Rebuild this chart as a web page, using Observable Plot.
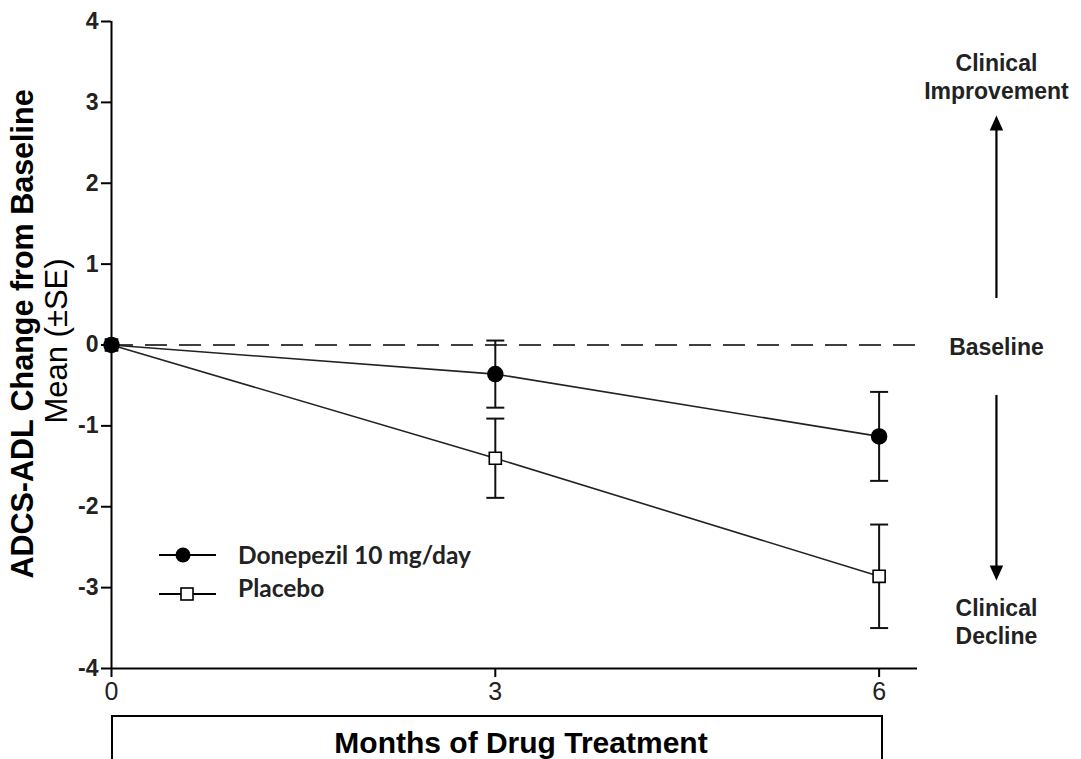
<!DOCTYPE html>
<html>
<head>
<meta charset="utf-8">
<script src="https://cdn.jsdelivr.net/npm/d3@7"></script>
<script src="https://cdn.jsdelivr.net/npm/@observablehq/plot@0.6"></script>
<style>
  html, body { margin: 0; padding: 0; background: #fff; overflow: hidden; }
  #wrap { position: relative; width: 1081px; height: 759px; overflow: hidden; }
  #xbox { position: absolute; left: 111px; top: 715px; width: 772px; height: 70px;
          border: 2px solid #000; box-sizing: border-box; text-align: center; padding-left: 48px;
          font-family: "Liberation Sans", Arial, sans-serif; font-weight: bold; font-size: 30px;
          line-height: 34px; padding-top: 9px; color: #000; }
  #legend { position: absolute; left: 150px; top: 530px; }
</style>
</head>
<body>
<div id="wrap"></div>
<script>
// ---- data ----
const months = [0, 3, 6];
const donepezilMean = [0, -0.36, -1.13];
const donepezilSE = [0, 0.415, 0.55];
const placeboMean = [0, -1.40, -2.86];
const placeboSE = [0, 0.49, 0.64];
const seriesNames = ["Donepezil 10 mg/day", "Placebo"];
const xTicks = [0, 3, 6];
const yTicks = [-4, -3, -2, -1, 0, 1, 2, 3, 4];
const yTitle = "ADCS-ADL Change from Baseline";
const ySubtitle = "Mean (\u00B1SE)";
const xTitle = "Months of Drug Treatment";
const annoTop = "Clinical\nImprovement";
const annoMid = "Baseline";
const annoBottom = "Clinical\nDecline";

// ---- tables ----
const donepezil = months.map((m, i) => ({series: seriesNames[0], month: m, mean: donepezilMean[i], se: donepezilSE[i]}));
const placebo = months.map((m, i) => ({series: seriesNames[1], month: m, mean: placeboMean[i], se: placeboSE[i]}));
const rows = donepezil.concat(placebo);
const errRows = rows.filter(d => d.se > 0);

const SANS = "'Liberation Sans', Arial, sans-serif";

const capSymbol = {draw(ctx, size) { const r = Math.sqrt(size / Math.PI); ctx.moveTo(-r, 0); ctx.lineTo(r, 0); }};
const headSymbol = {draw(ctx, size) { const r = Math.sqrt(size / Math.PI); ctx.moveTo(0, 0); ctx.lineTo(-r * 0.45, r); ctx.lineTo(r * 0.45, r); ctx.closePath(); }};

const annoX = 6.917;

const chart = Plot.plot({
  width: 1081,
  height: 759,
  marginLeft: 111,
  marginRight: 164,
  marginTop: 21,
  marginBottom: 91,
  style: {fontFamily: SANS, background: "white", color: "black", overflow: "visible"},
  x: {domain: [0, 6.3]},
  y: {domain: [-4, 4]},
  marks: [
    Plot.axisY({ticks: yTicks, tickSize: 10, tickPadding: 3, fontSize: 23, fontWeight: "bold", fontFamily: SANS,
      tickFormat: d => String(d), label: null, strokeWidth: 2, fill: "#222"}),
    Plot.axisX({ticks: xTicks, tickSize: 9, tickPadding: 5, fontSize: 25, fontFamily: SANS,
      tickFormat: d => String(d), label: null, strokeWidth: 2, fill: "#222"}),
    Plot.ruleX([0], {y1: -4, y2: 4, strokeWidth: 2}),
    Plot.ruleY([-4], {x1: 0, x2: 6.3, strokeWidth: 2}),
    Plot.ruleY([0], {x1: 0, x2: 6.3, strokeWidth: 1.6, strokeDasharray: "22,12"}),
    // error bars
    Plot.ruleX(errRows, {x: "month", y1: d => d.mean - d.se, y2: d => d.mean + d.se, strokeWidth: 2, stroke: "#111"}),
    Plot.dot(errRows, {x: "month", y: d => d.mean - d.se, symbol: capSymbol, r: 9, stroke: "#111", fill: "none", strokeWidth: 2}),
    Plot.dot(errRows, {x: "month", y: d => d.mean + d.se, symbol: capSymbol, r: 9, stroke: "#111", fill: "none", strokeWidth: 2}),
    // lines
    Plot.line(rows, {x: "month", y: "mean", z: "series", stroke: "#222", strokeWidth: 1.6}),
    // points
    Plot.dot(placebo, {x: "month", y: "mean", symbol: "square", r: 6.8, fill: "white", stroke: "#000", strokeWidth: 1.6}),
    Plot.dot(donepezil, {x: "month", y: "mean", symbol: "circle", r: 7.5, fill: "#000", stroke: "#000"}),
    // y titles
    Plot.text([yTitle], {frameAnchor: "left", textAnchor: "middle", rotate: -90, dx: -88, dy: -11, fontSize: 30.5, fontWeight: "bold", fontFamily: SANS, lineAnchor: "middle"}),
    Plot.text([ySubtitle], {frameAnchor: "left", textAnchor: "middle", rotate: -90, dx: -54, dy: -4, fontSize: 31, fontFamily: SANS, lineAnchor: "middle"}),
    // right annotations
    Plot.text([annoTop], {x: annoX, y: 3.32, fontSize: 23, fontWeight: "bold", fontFamily: SANS, lineHeight: 1.22, lineAnchor: "middle", fill: "#222"}),
    Plot.text([annoMid], {x: annoX, y: -0.03, fontSize: 23, fontWeight: "bold", fontFamily: SANS, lineAnchor: "middle", fill: "#222"}),
    Plot.text([annoBottom], {x: annoX, y: -3.41, fontSize: 23, fontWeight: "bold", fontFamily: SANS, lineHeight: 1.22, lineAnchor: "middle", fill: "#222"}),
    Plot.ruleX([annoX], {y1: 0.575, y2: 2.70, strokeWidth: 2.2}),
    Plot.dot([annoX], {x: d => d, y: 2.837, symbol: headSymbol, r: 15, fill: "#000", stroke: "none"}),
    Plot.ruleX([annoX], {y1: -0.624, y2: -2.77, strokeWidth: 2.2}),
    Plot.dot([annoX], {x: d => d, y: -2.911, symbol: headSymbol, r: 15, rotate: 180, fill: "#000", stroke: "none"})
  ]
});

const wrap = document.getElementById("wrap");
wrap.appendChild(chart);

// x axis title box
const box = document.createElement("div");
box.id = "xbox";
box.textContent = xTitle;
wrap.appendChild(box);

// legend
const legendDiv = document.createElement("div");
legendDiv.id = "legend";
wrap.appendChild(legendDiv);
const lsvg = d3.select(legendDiv).append("svg").attr("width", 360).attr("height", 80);
const legendItems = [
  {name: seriesNames[0], symbol: "circle"},
  {name: seriesNames[1], symbol: "square"}
];
legendItems.forEach((it, i) => {
  const cy = 25 + i * 39;
  const g = lsvg.append("g").attr("transform", `translate(0,${cy})`);
  g.append("line").attr("x1", 9).attr("x2", 66).attr("y1", 0).attr("y2", 0).attr("stroke", "#000").attr("stroke-width", 1.8);
  if (it.symbol === "circle") {
    g.append("circle").attr("cx", 33).attr("cy", 0).attr("r", 7.5).attr("fill", "#000");
  } else {
    g.append("rect").attr("x", 31).attr("y", -6).attr("width", 12).attr("height", 12).attr("fill", "#fff").attr("stroke", "#000").attr("stroke-width", 1.6);
  }
  g.append("text").attr("x", 88).attr("y", i === 0 ? 0 : -6).attr("dy", "0.35em")
    .attr("font-family", "Lato, 'Open Sans', sans-serif").attr("font-weight", "bold").attr("font-size", 24.5)
    .attr("fill", "#222").text(it.name);
});
</script>
</body>
</html>
